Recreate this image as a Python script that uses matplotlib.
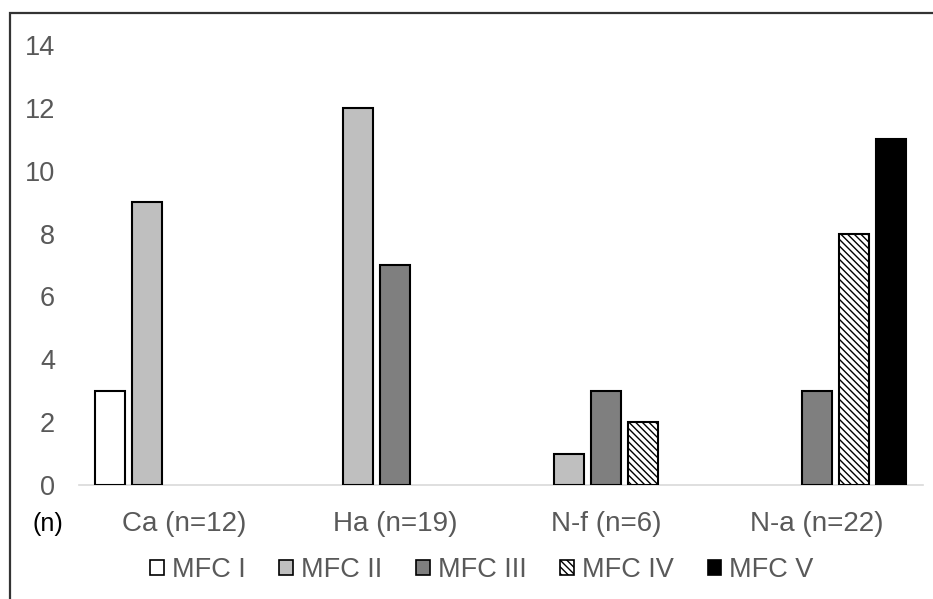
import numpy as np
import matplotlib.pyplot as plt
from matplotlib.patches import Rectangle, Patch

plt.rcParams['font.family'] = ['Liberation Sans', 'DejaVu Sans']
plt.rcParams['hatch.linewidth'] = 1.0

categories = ["Ca (n=12)", "Ha (n=19)", "N-f (n=6)", "N-a (n=22)"]
series = ["MFC I", "MFC II", "MFC III", "MFC IV", "MFC V"]
values = {
    "MFC I":   [3, 0, 0, 0],
    "MFC II":  [9, 12, 1, 0],
    "MFC III": [0, 7, 3, 3],
    "MFC IV":  [0, 0, 2, 8],
    "MFC V":   [0, 0, 0, 11],
}
colors = ["white", "#bfbfbf", "#7f7f7f", "white", "black"]
hatches = [None, None, None, "\\\\\\\\\\", None]

W, H = 933, 599
fig = plt.figure(figsize=(W / 100, H / 100), dpi=100)
ax = fig.add_axes([78.5 / W, 1 - 485 / H, 844 / W, 440 / H])

x = np.arange(len(categories))
step = 0.175
bw = 0.142
handles = []
for i, s in enumerate(series):
    v = np.array(values[s])
    keep = v > 0  # excel draws nothing for zero bars
    ax.bar(x[keep] + (i - 2) * step, v[keep], width=bw, color=colors[i],
           edgecolor="black", linewidth=1.5, hatch=hatches[i], zorder=3)
    handles.append(Patch(facecolor=colors[i], edgecolor="black", linewidth=1.2,
                         hatch=hatches[i], label=s))

ax.set_xlim(-0.5, 3.5)
ax.set_ylim(0, 14)
ax.set_yticks(range(0, 15, 2))
ax.set_xticks(x)
ax.set_xticklabels(categories)
for sp in ["top", "right", "left"]:
    ax.spines[sp].set_visible(False)
ax.spines["bottom"].set_color("#d9d9d9")
ax.spines["bottom"].set_linewidth(1.2)
ax.tick_params(axis="both", length=0, labelsize=19.5, colors="#595959")
ax.tick_params(axis="x", labelsize=20, pad=19)
ax.tick_params(axis="y", pad=17)

fig.text(48 / W, 1 - 524 / H, "(n)", fontsize=18, color="black",
         ha="center", va="center")

fig.legend(handles=handles, loc="center", bbox_to_anchor=(482 / W, 1 - 570 / H),
           ncol=5, frameon=False, fontsize=19.5, handlelength=0.5, handleheight=0.5,
           handletextpad=0.3, columnspacing=1.25, labelcolor="#595959")

# outer chart border (right and bottom edges fall outside the image)
fig.patches.append(Rectangle((10 / W, -0.1), 1.2, 1 - 13 / H + 0.1,
                             transform=fig.transFigure, fill=False,
                             edgecolor="#333333", linewidth=1.6))

fig.savefig("out.png", dpi=100)
